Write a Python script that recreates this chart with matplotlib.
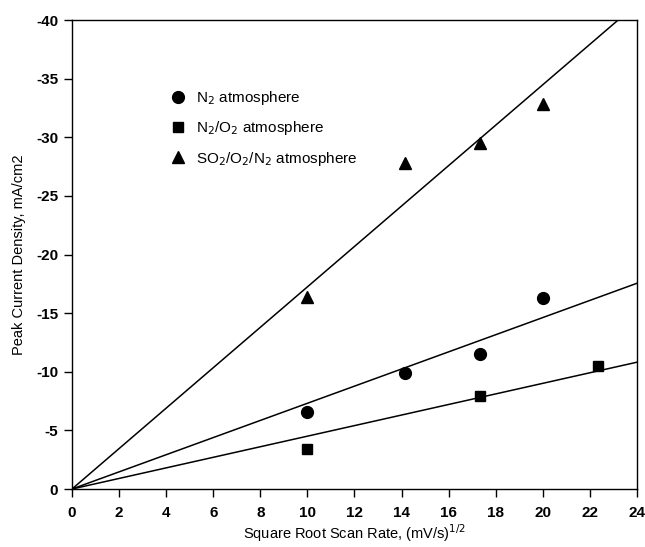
import matplotlib
matplotlib.use("Agg")
import matplotlib.pyplot as plt
import numpy as np

plt.rcParams['font.family'] = ['Liberation Sans', 'DejaVu Sans']
plt.rcParams['axes.unicode_minus'] = False

# square root of scan rate, (mV/s)^1/2
x_n2 = [10.0, 14.14, 17.32, 20.0]
x_n2o2 = [10.0, 17.32, 22.36]
x_so2 = [10.0, 14.14, 17.32, 20.0]

# peak current density, mA/cm2
y_n2 = [-6.6, -9.9, -11.5, -16.3]
y_n2o2 = [-3.4, -7.9, -10.5]
y_so2 = [-16.4, -27.8, -29.5, -32.8]

labels = ["N$_2$ atmosphere", "N$_2$/O$_2$ atmosphere", "SO$_2$/O$_2$/N$_2$ atmosphere"]


def origin_fit(xd, yd):
    # least squares slope for a line through zero
    x = np.array(xd)
    y = np.array(yd)
    return sum(x * y) / sum(x * x)


fig = plt.figure(figsize=(6.45, 5.47), dpi=100)
ax = fig.add_axes([0.1116, 0.106, 0.876, 0.8574])

xp = np.array([0, 24])
series = [(x_n2, y_n2, 'o', 8.5), (x_n2o2, y_n2o2, 's', 7.5), (x_so2, y_so2, '^', 8)]
for (xd, yd, m, ms), lab in zip(series, labels):
    ax.plot(xd, yd, 'k' + m, ms=ms, ls='none', label=lab)
for xd, yd, m, ms in series:
    a = origin_fit(xd, yd)
    ax.plot(xp, a * xp, 'k-', lw=1.1)

ax.set_xlim(0, 24)
ax.set_ylim(0, -40)
ax.set_xticks(np.arange(0, 25, 2))
ax.set_yticks(np.arange(0, -41, -5))
ax.tick_params(direction='out', length=6, width=1, labelsize=11, pad=4)
ax.tick_params(axis='x', pad=6)
for lab in ax.get_xticklabels() + ax.get_yticklabels():
    lab.set_fontweight('bold')
for s in ax.spines.values():
    s.set_linewidth(1)

ax.set_xlabel("Square Root Scan Rate, (mV/s)$^{1/2}$", fontsize=10.5, labelpad=2)
ax.set_ylabel("Peak Current Density, mA/cm2", fontsize=10.5, labelpad=7)

ax.legend(loc='upper left', bbox_to_anchor=(0.147, 0.882), frameon=False,
          fontsize=11, labelspacing=0.8, handletextpad=0.55, handlelength=1.2)

fig.savefig("out.png", dpi=100)
